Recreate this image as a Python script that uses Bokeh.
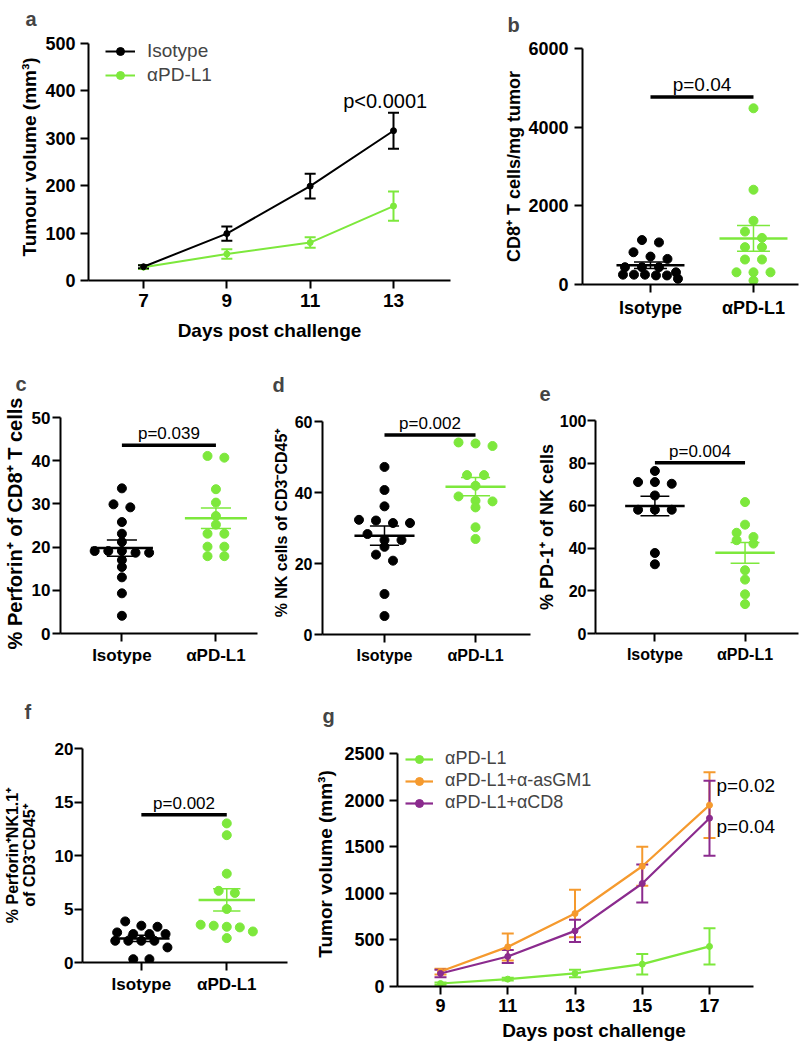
import numpy as np
from bokeh.plotting import figure
from bokeh.layouts import row, column
from bokeh.models import (Range1d, FixedTicker, Whisker, TeeHead, ColumnDataSource,
                          Legend, LegendItem, Label)
from bokeh.embed import file_html
from bokeh.resources import INLINE

FONT = "Liberation Sans"
GREEN = "#7DE83C"
ORANGE = "#F59A2E"
PURPLE = "#8B2B8E"
BLACK = "#000000"

groups = ["Isotype", "αPD-L1"]

# ---- panel a : tumour growth
a_days = [7, 9, 11, 13]
a_iso_mean = [29, 99, 199, 316]
a_iso_sem = [3, 15, 26, 38]
a_pd_mean = [28, 56, 80, 157]
a_pd_sem = [4, 10, 11, 31]
a_xticks = [7, 9, 11, 13]
a_yticks = [0, 100, 200, 300, 400, 500]

# ---- panel b : CD8+ T cells / mg tumour
b_iso = [1130, 1070, 820, 710, 650, 440, 440, 440, 310, 250, 250, 250, 230, 230, 145]
b_pd = [4480, 2410, 1620, 1345, 1185, 950, 950, 635, 635, 310, 310, 310, 100]
b_yticks = [0, 2000, 4000, 6000]

# ---- panel c : % perforin+ of CD8+ T cells
c_iso = [33.6, 29.9, 29.2, 25.8, 23.1, 21.2, 19.1, 19.1, 19.1, 18.7, 18.7, 17.0, 15.4, 13.0, 9.3, 4.1]
c_pd = [41.1, 40.7, 33.4, 30.3, 27.2, 25.2, 23.1, 23.1, 20.1, 20.1, 17.9, 17.9]
c_yticks = [0, 10, 20, 30, 40, 50]

# ---- panel d : % NK cells
d_iso = [47.2, 40.7, 36.1, 32.3, 32.1, 31.4, 31.4, 28.3, 26.6, 26.6, 24.7, 22.5, 20.8, 11.4, 5.2]
d_pd = [54.1, 53.8, 53.1, 44.9, 44.9, 41.9, 38.9, 37.7, 37.5, 35.8, 30.2, 26.9]
d_yticks = [0, 20, 40, 60]

# ---- panel e : % PD-1+ of NK cells
e_iso = [76.3, 71.1, 71.1, 70.3, 64.8, 58.1, 58.1, 58.1, 37.8, 32.5]
e_pd = [61.7, 51.1, 47.3, 45.3, 43.8, 42.2, 29.7, 25.3, 18.4, 13.8]
e_yticks = [0, 20, 40, 60, 80, 100]

# ---- panel f : % perforin+ NK1.1+
f_iso = [3.84, 3.44, 3.34, 2.81, 2.66, 2.66, 2.66, 2.03, 2.03, 2.03, 2.03, 1.41, 0.31, 0.31]
f_pd = [13.0, 11.9, 8.3, 6.7, 6.5, 5.0, 3.53, 3.44, 3.34, 3.28, 2.9, 2.28]
f_yticks = [0, 5, 10, 15, 20]

# ---- panel g : depletion
g_days = [9, 11, 13, 15, 17]
g_series = ["αPD-L1", "αPD-L1+α-asGM1", "αPD-L1+αCD8"]
g_pd_mean = [32, 79, 140, 240, 430]
g_pd_sem = [12, 15, 40, 110, 195]
g_gm1_mean = [160, 425, 783, 1290, 1946]
g_gm1_sem = [30, 145, 255, 210, 352]
g_cd8_mean = [140, 322, 597, 1105, 1806]
g_cd8_sem = [40, 70, 120, 205, 402]
g_xticks = [9, 11, 13, 15, 17]
g_yticks = [0, 500, 1000, 1500, 2000, 2500]


def base_fig(W, H, L, R, T, B, xr, ymax, ext, letter, loff, lstand):
    fh = H - T - B
    ytop = ymax * fh / (fh - ext)
    p = figure(width=W, height=H, x_range=Range1d(*xr), y_range=Range1d(0, ytop),
               output_backend="svg", toolbar_location=None,
               min_border_left=L, min_border_right=R, min_border_top=T, min_border_bottom=B)
    p.xgrid.visible = False
    p.ygrid.visible = False
    p.outline_line_color = None
    p.background_fill_color = "white"
    p.border_fill_color = "white"
    for ax in (p.xaxis[0], p.yaxis[0]):
        ax.axis_line_width = 2
        ax.axis_line_color = BLACK
        ax.major_tick_line_width = 2
        ax.major_tick_line_color = BLACK
        ax.major_tick_out = 8
        ax.major_tick_in = 0
        ax.minor_tick_line_color = None
        ax.major_label_text_font = FONT
        ax.major_label_text_font_style = "bold"
        ax.major_label_text_color = BLACK
        ax.axis_label_text_font = FONT
        ax.axis_label_text_font_style = "bold"
        ax.axis_label_text_color = BLACK
    p.yaxis.bounds = (0, ymax)
    p.title.text = letter
    p.title.align = "left"
    p.title.offset = loff
    p.title.standoff = lstand
    p.title.text_font = FONT
    p.title.text_font_size = "20px"
    p.title.text_font_style = "bold"
    return p


def style_axes(p, xfs, yfs, lfs, xstand, ystand, xlstand, ylstand):
    p.xaxis.major_label_text_font_size = xfs
    p.yaxis.major_label_text_font_size = yfs
    p.xaxis.axis_label_text_font_size = lfs
    p.yaxis.axis_label_text_font_size = lfs
    p.xaxis.major_label_standoff = xstand
    p.yaxis.major_label_standoff = ystand
    p.xaxis.axis_label_standoff = xlstand
    p.yaxis.axis_label_standoff = ylstand


def swarm(vals, py, pxu, d=9.0, maxw=55.0):
    vals = np.asarray(vals, float)
    order = np.argsort(-vals, kind="stable")
    rows = []
    for i in order:
        if rows and abs(vals[rows[-1][0]] - vals[i]) * py < 0.75 * d:
            rows[-1].append(i)
        else:
            rows.append([i])
    off = np.zeros(len(vals))
    for r in rows:
        n = len(r)
        if n == 1:
            continue
        gap = min(17.0, maxw / (n - 1))
        for k, i in enumerate(r):
            off[i] = (k - (n - 1) / 2) * gap / pxu
    return off


def scatter_panel(letter, iso, pdv, yticks, ylabel, ptext, bar_y, geom, xr, ext, loff, lstand,
                  tfs, lfs, pfs, xstand, ystand, ylstand):
    W, H, L, R, T, B = geom
    p = base_fig(W, H, L, R, T, B, xr, yticks[-1], ext, letter, loff, lstand)
    fw = W - L - R
    fh = H - T - B - ext
    pxu = fw / (xr[1] - xr[0])
    py = fh / yticks[-1]
    for k, (vals, col) in enumerate([(iso, BLACK), (pdv, GREEN)]):
        xc = k + 1
        off = swarm(vals, py, pxu)
        p.scatter(xc + off, vals, size=9, color=col, line_color=col)
        v = np.asarray(vals, float)
        m = v.mean()
        s = v.std(ddof=1) / np.sqrt(len(v))
        p.segment(x0=[xc - 0.33], y0=[m], x1=[xc + 0.33], y1=[m], line_width=2.5, color=col)
        p.segment(x0=[xc, xc - 0.16, xc - 0.16], y0=[m - s, m + s, m - s],
                  x1=[xc, xc + 0.16, xc + 0.16], y1=[m + s, m + s, m - s],
                  line_width=1.5, color=col)
    p.segment(x0=[1], y0=[bar_y], x1=[2], y1=[bar_y], line_width=3.5, color=BLACK)
    p.add_layout(Label(x=1.5, y=bar_y, y_offset=2, text=ptext, text_align="center",
                       text_baseline="bottom", text_font=FONT, text_font_size=pfs,
                       text_color=BLACK))
    p.xaxis.ticker = FixedTicker(ticks=[1, 2])
    p.xaxis.major_label_overrides = {1: groups[0], 2: groups[1]}
    p.yaxis.ticker = FixedTicker(ticks=yticks)
    p.yaxis.axis_label = ylabel
    style_axes(p, tfs, tfs, lfs, xstand, ystand, 3, ylstand)
    return p


# ---------------- panel a
pa = base_fig(500, 348, 88, 50, 33, 68, (5.68, 14.368), a_yticks[-1], 10, "a", -63, 8)
src_iso = ColumnDataSource(dict(x=a_days, y=a_iso_mean,
                                lo=np.array(a_iso_mean) - np.array(a_iso_sem),
                                hi=np.array(a_iso_mean) + np.array(a_iso_sem)))
src_pd = ColumnDataSource(dict(x=a_days, y=a_pd_mean,
                               lo=np.array(a_pd_mean) - np.array(a_pd_sem),
                               hi=np.array(a_pd_mean) + np.array(a_pd_sem)))
items = []
for src, col, lab in [(src_pd, GREEN, groups[1]), (src_iso, BLACK, groups[0])]:
    pa.add_layout(Whisker(source=src, base="x", upper="hi", lower="lo", line_color=col,
                          line_width=2,
                          upper_head=TeeHead(size=11, line_color=col, line_width=2),
                          lower_head=TeeHead(size=11, line_color=col, line_width=2)))
    l = pa.line("x", "y", source=src, line_width=2, color=col)
    s = pa.scatter("x", "y", source=src, size=6, color=col)
    items.append(LegendItem(label=lab, renderers=[l, s]))
items = items[::-1]
leg_a = Legend(items=items, location=(17, 194), glyph_width=30, glyph_height=20,
               label_height=20, label_standoff=12, spacing=2, padding=0, margin=0,
               background_fill_alpha=0, border_line_color=None,
               label_text_font=FONT, label_text_font_size="19px")
pa.add_layout(leg_a)
pa.add_layout(Label(x=12.8, y=378, text="p<0.0001", text_align="center", text_baseline="middle",
                    text_font=FONT, text_font_size="20px", text_color=BLACK))
pa.xaxis.ticker = FixedTicker(ticks=a_xticks)
pa.yaxis.ticker = FixedTicker(ticks=a_yticks)
pa.xaxis.axis_label = "Days post challenge"
pa.yaxis.axis_label = "Tumour volume (mm³)"
style_axes(pa, "19px", "18px", "19px", 5, 5, 10, 2)

# ---------------- panel b
pb = scatter_panel("b", b_iso, b_pd, b_yticks, "CD8⁺ T cells/mg tumor", "p=0.04", 4770,
                   (300, 348, 82, 2, 48, 64), (0.34, 2.437), 0, -75, 22,
                   "18px", "18px", "19px", 5, 6, 1)
pb.title.vertical_align = "top"

# ---------------- row 2
pc = scatter_panel("c", c_iso, c_pd, c_yticks, "% Perforin⁺ of CD8⁺ T cells", "p=0.039", 43.6,
                   (265, 322, 58, 8, 65, 37), (0.347, 2.442), 4, -45, 38,
                   "17px", "20px", "17px", 4, 2, 3)
pc.xaxis.axis_label_text_font_size = "17px"
pd_ = scatter_panel("d", d_iso, d_pd, d_yticks, "% NK cells of CD3⁻CD45⁺", "p=0.002", 56.2,
                    (268, 322, 57, 3, 63, 36), (0.319, 2.604), 10, -50, 32,
                    "16px", "16px", "17px", 4, 2, 2)
pe = scatter_panel("e", e_iso, e_pd, e_yticks, "% PD-1⁺ of NK cells", "p=0.004", 80.2,
                   (267, 322, 60, 2, 72, 37), (0.341, 2.593), 0, -56, 40,
                   "16px", "18px", "17px", 4, 1, 0)

# ---------------- panel f
pf = scatter_panel("f", f_iso, f_pd, f_yticks, "% Perforin⁺NK1.1⁺\nof CD3⁻CD45⁺", "p=0.002", 13.8,
                   (310, 381, 71, 23, 78, 89), (0.311, 2.711), 0, -58, 52,
                   "17px", "16px", "17px", 4, 1, 14)
pf.yaxis.axis_label_text_line_height = 1.0

# ---------------- panel g
pg = base_fig(490, 381, 87, 10, 71, 65, (7.721, 19.409), g_yticks[-1], 12, "g", -75, 30)
pg.xaxis.bounds = (7.721, 18.309)
g_items = []
for mean, sem, col, lab in [(g_pd_mean, g_pd_sem, GREEN, g_series[0]),
                            (g_gm1_mean, g_gm1_sem, ORANGE, g_series[1]),
                            (g_cd8_mean, g_cd8_sem, PURPLE, g_series[2])]:
    src = ColumnDataSource(dict(x=g_days, y=mean,
                                lo=np.array(mean) - np.array(sem),
                                hi=np.array(mean) + np.array(sem)))
    pg.add_layout(Whisker(source=src, base="x", upper="hi", lower="lo", line_color=col,
                          line_width=2,
                          upper_head=TeeHead(size=12, line_color=col, line_width=2),
                          lower_head=TeeHead(size=12, line_color=col, line_width=2)))
    l = pg.line("x", "y", source=src, line_width=2.2, color=col)
    s = pg.scatter("x", "y", source=src, size=6, color=col)
    g_items.append(LegendItem(label=lab, renderers=[l, s]))
leg_g = Legend(items=g_items, location=(8, 173), glyph_width=28, glyph_height=20,
               label_height=20, label_standoff=12, spacing=1, padding=0, margin=0,
               background_fill_alpha=0, border_line_color=None,
               label_text_font=FONT, label_text_font_size="18px")
pg.add_layout(leg_g)
pg.add_layout(Label(x=17, y=2157, x_offset=7, text="p=0.02", text_align="left",
                    text_baseline="middle", text_font=FONT, text_font_size="19px", text_color=BLACK))
pg.add_layout(Label(x=17, y=1717, x_offset=7, text="p=0.04", text_align="left",
                    text_baseline="middle", text_font=FONT, text_font_size="19px", text_color=BLACK))
pg.xaxis.ticker = FixedTicker(ticks=g_xticks)
pg.yaxis.ticker = FixedTicker(ticks=g_yticks)
pg.xaxis.axis_label = "Days post challenge"
pg.yaxis.axis_label = "Tumor volume (mm³)"
style_axes(pg, "18px", "18px", "19px", 4, 5, 5, 5)

layout = column(row(column(pa), column(pb)),
                row(column(pc), column(pd_), column(pe)),
                row(column(pf), column(pg)))
open("out.html", "w").write(file_html(layout, INLINE))
